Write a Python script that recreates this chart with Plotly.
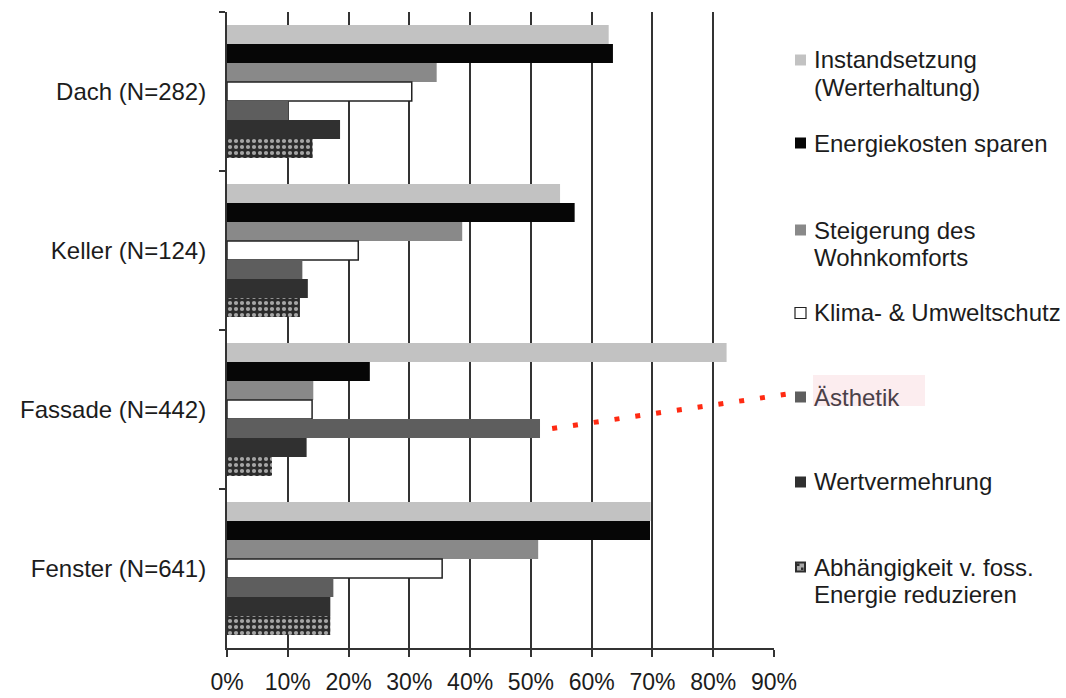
import plotly.graph_objects as go

# --- data -----------------------------------------------------------------
categories = ["Dach (N=282)", "Keller (N=124)", "Fassade (N=442)", "Fenster (N=641)"]

series_names = [
    "Instandsetzung<br>(Werterhaltung)",
    "Energiekosten sparen",
    "Steigerung des<br>Wohnkomforts",
    "Klima- & Umweltschutz",
    "Ästhetik",
    "Wertvermehrung",
    "Abhängigkeit v. foss.<br>Energie reduzieren",
]

instandsetzung = [62.8, 54.8, 82.2, 69.7]
energiekosten = [63.5, 57.2, 23.5, 69.6]
wohnkomfort = [34.5, 38.7, 14.2, 51.2]
klimaschutz = [30.4, 21.6, 14.0, 35.4]
aesthetik = [10.1, 12.4, 51.5, 17.5]
wertvermehrung = [18.6, 13.3, 13.1, 17.0]
abhaengigkeit = [14.1, 12.0, 7.4, 17.0]

x_ticks = [0, 10, 20, 30, 40, 50, 60, 70, 80, 90]

series_values = [instandsetzung, energiekosten, wohnkomfort, klimaschutz,
                 aesthetik, wertvermehrung, abhaengigkeit]

# --- styling ----------------------------------------------------------------
FONT = "Liberation Sans, Arial, Helvetica, sans-serif"
TEXT = "#1c1c1c"
fills = ["#c2c2c2", "#060606", "#898989", "#ffffff", "#5e5e5e", "#303030", "#2e2e2e"]
outlines = [None, None, None, "#222222", None, None, None]

W_FIG, H_FIG = 1066, 698
PL, PR, PT, PB = 227, 774, 12, 648
PW, PH = PR - PL, PB - PT


def px(x):
    return (x - PL) / PW


def py(y):
    return (PB - y) / PH


fig = go.Figure()
for i, (name, vals) in enumerate(zip(series_names, series_values)):
    marker = dict(color=fills[i], line=dict(width=0))
    if outlines[i]:
        marker["line"] = dict(color=outlines[i], width=1.5)
    if i == 6:
        marker["pattern"] = dict(shape=".", fgcolor="#a6a6a6", bgcolor="#2b2b2b",
                                 fillmode="replace", size=6, solidity=0.38)
    fig.add_trace(go.Bar(
        y=categories, x=vals, name=name.replace("<br>", " "),
        orientation="h", marker=marker, showlegend=False,
    ))

shapes = []
annotations = []

# hand-placed legend on the right
legend_first_line = [60, 143, 230, 313, 397, 482, 567]
LINE_STEP = 27
MK0, MK1 = 795, 806
TX = 812

# soft highlight behind the "Ästhetik" entry
shapes.append(dict(type="rect", xref="paper", yref="paper",
                   x0=px(813), x1=px(925), y0=py(406), y1=py(375),
                   fillcolor="rgba(250,222,225,0.55)", line=dict(width=0), layer="below"))

for i, name in enumerate(series_names):
    y0 = legend_first_line[i]
    half = (MK1 - MK0) / 2
    if i == 6:
        shapes.append(dict(type="rect", xref="paper", yref="paper",
                           x0=px(MK0), x1=px(MK1), y0=py(y0 + half), y1=py(y0 - half),
                           fillcolor="#2e2e2e", line=dict(width=0)))
        shapes.append(dict(type="rect", xref="paper", yref="paper",
                           x0=px(MK0 + 2), x1=px(MK1 - 2), y0=py(y0 + half - 2), y1=py(y0 - half + 2),
                           fillcolor="#a8a8a8", line=dict(width=0)))
        for dx, dy in [(0, 0), (4, 4)]:
            shapes.append(dict(type="rect", xref="paper", yref="paper",
                               x0=px(MK0 + 2 + dx), x1=px(MK0 + 4.5 + dx),
                               y0=py(y0 - half + 4.5 + dy), y1=py(y0 - half + 2 + dy),
                               fillcolor="#2e2e2e", line=dict(width=0)))
    else:
        shapes.append(dict(type="rect", xref="paper", yref="paper",
                           x0=px(MK0), x1=px(MK1), y0=py(y0 + half), y1=py(y0 - half),
                           fillcolor=fills[i],
                           line=dict(color=outlines[i] or fills[i], width=1.2 if outlines[i] else 0)))
    color = "#4a4048" if i == 4 else TEXT
    for k, line in enumerate(name.split("<br>")):
        annotations.append(dict(
            xref="paper", yref="paper", x=px(TX), y=py(y0 + k * LINE_STEP),
            xanchor="left", yanchor="middle", showarrow=False, text=line,
            font=dict(family=FONT, size=24, color=color),
        ))

# dotted pointer from the Fassade "Ästhetik" bar to its legend entry
n_series = len(series_names)
bargap = 0.165
cat_idx = categories.index("Fassade (N=442)")
bar_w = (1 - bargap) / n_series
bar_center = cat_idx - (1 - bargap) / 2 + (4 + 0.5) * bar_w
y_start = 1 - (bar_center + 0.5) / len(categories)
x_start = (aesthetik[cat_idx] + 2.0) / x_ticks[-1]
shapes.append(dict(type="line", xref="paper", yref="paper",
                   x0=x_start, y0=y_start, x1=px(788), y1=py(394),
                   line=dict(color="#ff2a12", width=5, dash="5px,16px")))

fig.update_layout(
    template="none",
    width=W_FIG, height=H_FIG,
    margin=dict(l=PL, r=W_FIG - PR, t=PT, b=H_FIG - PB, pad=0),
    paper_bgcolor="white", plot_bgcolor="white",
    barmode="group", bargap=bargap, bargroupgap=0,
    font=dict(family=FONT, size=24, color=TEXT),
    shapes=shapes, annotations=annotations,
    showlegend=False,
)

fig.update_xaxes(
    range=[0, x_ticks[-1]], tickvals=x_ticks, ticktext=[f"{v}%" for v in x_ticks],
    showgrid=True, gridcolor="#333333", gridwidth=2, zeroline=False,
    showline=True, linecolor="#333333", linewidth=2,
    ticks="outside", ticklen=7, tickwidth=2, tickcolor="#333333",
    tickfont=dict(family=FONT, size=23, color=TEXT), ticklabelstandoff=5,
    automargin=False,
)
fig.update_yaxes(
    type="category", categoryorder="array", categoryarray=categories,
    autorange="reversed", showgrid=False, zeroline=False,
    showline=True, linecolor="#333333", linewidth=2,
    ticks="outside", tickson="boundaries", ticklen=6, tickwidth=2, tickcolor="#333333",
    tickfont=dict(family=FONT, size=24, color=TEXT), ticklabelstandoff=14,
    automargin=False,
)

fig.write_html("out.html")
